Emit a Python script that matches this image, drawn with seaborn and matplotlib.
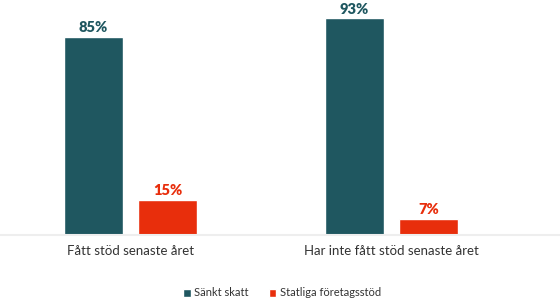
import matplotlib
matplotlib.use("Agg")
import matplotlib.pyplot as plt
import seaborn as sns
import pandas as pd
from matplotlib.patches import Patch

categories = ["Fått stöd senaste året", "Har inte fått stöd senaste året"]
series = ["Sänkt skatt", "Statliga företagsstöd"]
sankt_skatt = [85, 93]
statliga = [15, 7]
colors = ["#1F5760", "#E82E0C"]

df = pd.DataFrame({
    "cat": categories * 2,
    "series": [series[0]] * 2 + [series[1]] * 2,
    "value": sankt_skatt + statliga,
})

sns.set_theme(style="white")
plt.rcParams["font.family"] = ["Lato", "DejaVu Sans"]

fig = plt.figure(figsize=(5.6, 3.0), dpi=100)
ax = fig.add_axes([0, 65 / 300, 1, 233 / 300])

sns.barplot(data=df, x="cat", y="value", hue="series", palette=colors,
            width=0.567, gap=0.2, ax=ax, legend=False, saturation=1)

ax.set_ylim(0, 100)
ax.set_xlim(-0.5, 1.646)
ax.set_ylabel("")
ax.set_xlabel("")
ax.set_yticks([])
for s in ["top", "right", "left"]:
    ax.spines[s].set_visible(False)
ax.spines["bottom"].set_color("#EEEEEE")
ax.spines["bottom"].set_linewidth(1.5)
ax.tick_params(axis="x", length=0, pad=7, labelsize=9.5, labelcolor="#333333")

for container, col in zip(ax.containers, colors):
    ax.bar_label(container, labels=[f"{int(v)}%" for v in container.datavalues],
                 padding=2, color=col, fontweight="heavy", fontsize=10.5)

handles = [Patch(facecolor=c, label=s) for c, s in zip(colors, series)]
fig.legend(handles=handles, loc="center", bbox_to_anchor=(282 / 560, 1 - 293 / 300),
           ncol=2, frameon=False, fontsize=8, handlelength=0.7, handleheight=0.7,
           handletextpad=0.3, columnspacing=1.8, labelcolor="#333333")

fig.savefig("out.png", dpi=100)
